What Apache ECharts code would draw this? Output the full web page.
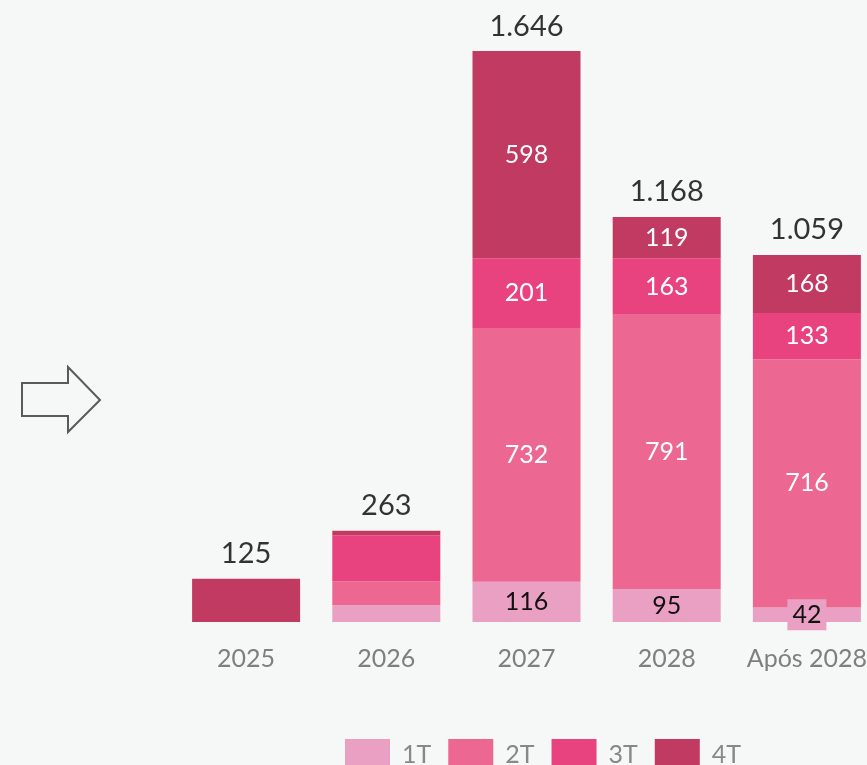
<!DOCTYPE html>
<html>
<head>
<meta charset="utf-8">
<script src="https://cdn.jsdelivr.net/npm/echarts@6/dist/echarts.min.js"></script>
<style>
  html, body { margin: 0; padding: 0; background: #f6f7f7; }
  #chart { width: 867px; height: 765px; }
</style>
</head>
<body>
<div id="chart"></div>
<script>
  // categorias e valores por trimestre
  var categorias = ['2025', '2026', '2027', '2028', 'Após 2028'];
  var t1 = [0, 48, 116, 95, 42];
  var t2 = [0, 69, 732, 791, 716];
  var t3 = [0, 133, 201, 163, 133];
  var t4 = [125, 13, 598, 119, 168];
  var totais = [125, 263, 1646, 1168, 1059];
  // quais segmentos mostram rótulo
  var mostraRotulo = [false, false, true, true, true];

  var cores = ['#e9a0c3', '#ec6892', '#e8437f', '#c13a62'];
  var fonte = 'Lato, "Open Sans", sans-serif';

  function fmt(v) {
    return String(v).replace(/\B(?=(\d{3})+(?!\d))/g, '.');
  }

  function serie(nome, dados, cor, corTexto, fundo) {
    return {
      name: nome,
      type: 'bar',
      stack: 'total',
      barWidth: 108,
      itemStyle: { color: cor },
      data: dados.map(function (v, i) {
        return {
          value: v,
          label: {
            show: mostraRotulo[i],
            position: 'inside',
            color: corTexto,
            fontSize: 25,
            fontFamily: fonte,
            backgroundColor: fundo,
            padding: fundo ? [3, 5, 3, 5] : 0,
            formatter: function (p) { return fmt(p.value); }
          }
        };
      })
    };
  }

  var myChart = echarts.init(document.getElementById('chart'));
  var option = {
    backgroundColor: '#f6f7f7',
    animation: false,
    grid: { left: 176, width: 701, top: 50, bottom: 143, outerBoundsMode: 'none', containLabel: false },
    xAxis: {
      type: 'category',
      data: categorias,
      axisLine: { show: false },
      axisTick: { show: false },
      axisLabel: { interval: 0, color: '#7f7f7f', fontSize: 25, fontFamily: fonte, margin: 24 }
    },
    yAxis: { type: 'value', min: 0, max: 1650, show: false },
    legend: {
      data: ['1T', '2T', '3T', '4T'],
      left: 340,
      top: 734,
      itemWidth: 45,
      itemHeight: 32,
      itemGap: 17,
      icon: 'rect',
      textStyle: { color: '#888', fontSize: 25, fontFamily: fonte, padding: [0, 0, 0, 7] }
    },
    graphic: [{
      type: 'polygon',
      shape: { points: [[22, 383], [68, 383], [68, 367], [100, 400], [68, 432], [68, 416], [22, 416]] },
      style: { fill: 'none', stroke: '#5a5a5a', lineWidth: 2 }
    }],
    series: [
      serie('1T', t1, cores[0], '#111', cores[0]),
      serie('2T', t2, cores[1], '#fff', null),
      serie('3T', t3, cores[2], '#fff', null),
      serie('4T', t4, cores[3], '#fff', null),
      {
        name: 'total',
        type: 'scatter',
        data: totais,
        symbolSize: 1,
        itemStyle: { color: 'rgba(0,0,0,0)' },
        label: {
          show: true,
          position: 'top',
          distance: 10,
          color: '#000',
          fontSize: 29,
          fontFamily: fonte,
          formatter: function (p) { return fmt(p.value); }
        }
      }
    ]
  };
  myChart.setOption(option);
</script>
</body>
</html>
